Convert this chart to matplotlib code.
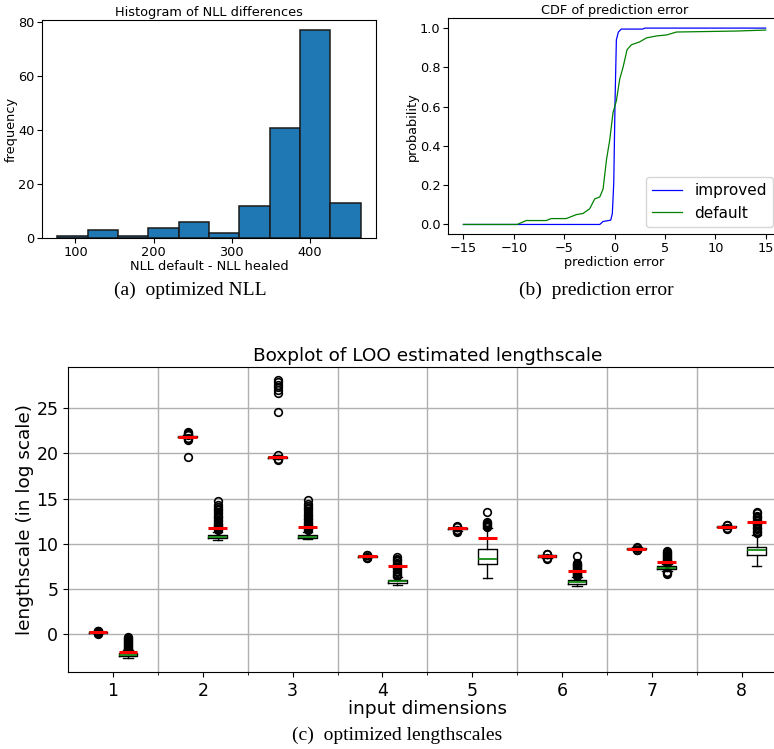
import matplotlib.pyplot as plt
import numpy as np

# (a) histogram of NLL differences
nll_edges = [77.0, 115.8, 154.6, 193.4, 232.2, 271.0, 309.8, 348.6, 387.4, 426.2, 465.0]
nll_counts = [1, 3, 1, 4, 6, 2, 12, 41, 77, 13]

# (b) CDF of prediction error
improved_x = [-15, -1.47, -1.14, -0.38, -0.22, -0.08, 0.05, 0.18, 0.38, 0.67, 2.8, 3.0, 15]
improved_p = [0, 0, 0.015, 0.022, 0.056, 0.21, 0.63, 0.94, 0.98, 0.995, 0.995, 1.0, 1.0]
default_x = [-15, -9.66, -8.77, -6.78, -6.29, -4.8, -3.8, -3.13, -2.47, -1.97, -1.47, -1.14,
             -0.8, -0.48, -0.15, 0.18, 0.51, 0.84, 1.24, 1.67, 2.5, 3.16, 4.16, 5.16, 6.15,
             12.1, 15]
default_p = [0, 0, 0.02, 0.02, 0.03, 0.03, 0.05, 0.056, 0.08, 0.13, 0.14, 0.18,
             0.33, 0.43, 0.57, 0.63, 0.74, 0.80, 0.89, 0.915, 0.93, 0.95, 0.96, 0.965, 0.98,
             0.985, 0.99]

# (c) boxplot stats per input dimension, two boxes each
dims = [1, 2, 3, 4, 5, 6, 7, 8]
a_med = [0.2, 21.85, 19.55, 8.62, 11.7, 8.62, 9.45, 11.88]
a_q1 = [0.15, 21.8, 19.5, 8.58, 11.62, 8.55, 9.4, 11.82]
a_q3 = [0.25, 21.9, 19.65, 8.68, 11.78, 8.7, 9.5, 11.95]
a_lo = [0.1, 21.7, 19.4, 8.5, 11.45, 8.45, 9.3, 11.7]
a_hi = [0.3, 22.0, 19.8, 8.75, 11.9, 8.8, 9.6, 12.05]
a_mean = [0.22, 21.82, 19.6, 8.64, 11.7, 8.64, 9.45, 11.89]
a_fliers = [
    [0.05, 0.1, 0.12, 0.15, 0.28, 0.3, 0.33, 0.38],
    [19.6, 21.5, 21.6, 21.7, 22.0, 22.1, 22.2, 22.3, 22.4],
    [19.3, 19.35, 19.8, 24.6, 26.65, 27.0, 27.35, 27.6, 27.9, 28.15],
    [8.4, 8.45, 8.5, 8.75, 8.8],
    [11.35, 11.4, 11.5, 11.9, 12.0],
    [8.3, 8.4, 8.85, 8.9],
    [9.3, 9.35, 9.55, 9.6],
    [11.6, 11.7, 12.05, 12.1],
]
b_med = [-2.29, 10.72, 10.8, 5.83, 8.27, 5.72, 7.35, 9.27]
b_q1 = [-2.44, 10.6, 10.67, 5.65, 7.72, 5.58, 7.16, 8.79]
b_q3 = [-2.07, 10.97, 10.97, 6.02, 9.38, 5.98, 7.53, 9.67]
b_lo = [-2.7, 10.45, 10.55, 5.39, 6.2, 5.28, 6.95, 7.53]
b_hi = [-1.8, 11.35, 11.35, 6.3, 11.78, 6.3, 7.75, 10.97]
b_mean = [-2.03, 11.74, 11.85, 7.5, 10.63, 6.98, 7.94, 12.37]
b_fliers = [
    [-1.7, -1.6, -1.5, -1.4, -1.3, -1.2, -1.1, -1.0, -0.9, -0.8, -0.7, -0.6, -0.45, -0.3],
    [11.5, 11.6, 11.7, 11.8, 11.9, 12.0, 12.1, 12.2, 12.35, 12.5, 12.65, 12.8, 12.95,
     13.1, 13.3, 13.5, 13.7, 13.9, 14.1, 14.3, 14.75],
    [11.55, 11.65, 11.75, 11.85, 11.95, 12.05, 12.15, 12.3, 12.45, 12.6, 12.75, 12.9,
     13.05, 13.2, 13.4, 13.6, 13.8, 14.0, 14.2, 14.4, 14.85],
    [6.4, 6.55, 6.7, 6.85, 7.0, 7.15, 7.3, 7.45, 7.6, 7.75, 7.9, 8.05, 8.2, 8.35, 8.5],
    [11.9, 12.0, 12.1, 12.2, 12.3, 12.4, 13.5],
    [6.4, 6.5, 6.6, 6.7, 6.8, 6.9, 7.0, 7.1, 7.2, 7.3, 7.4, 7.5, 7.6, 7.7, 7.8, 7.9, 8.68],
    [6.6, 6.75, 6.85, 7.85, 7.95, 8.05, 8.15, 8.25, 8.35, 8.45, 8.55, 8.65, 8.75, 8.85,
     8.95, 9.05, 9.15],
    [11.15, 11.3, 11.45, 11.6, 11.75, 11.9, 12.05, 12.2, 12.35, 12.5, 12.65, 12.8, 12.95,
     13.1, 13.35, 13.5],
]

fig = plt.figure(figsize=(7.74, 7.49), dpi=100)
small = 9.3

# ---- (a) histogram
ax1 = fig.add_axes([0.0547, 0.6818, 0.4307, 0.2915])
ax1.bar(nll_edges[:-1], nll_counts, width=np.diff(nll_edges), align='edge',
        color='#1f77b4', edgecolor='#1a1a1a', linewidth=1.1)
ax1.set_title('Histogram of NLL differences', fontsize=small, pad=3)
ax1.set_xlabel('NLL default - NLL healed', fontsize=small, labelpad=1)
ax1.set_ylabel('frequency', fontsize=small, labelpad=0)
ax1.tick_params(labelsize=small, pad=2)

# ---- (b) CDF
ax2 = fig.add_axes([0.5792, 0.6872, 0.4296, 0.2884])
ax2.plot(improved_x, improved_p, color='blue', linewidth=0.9, label='improved')
ax2.plot(default_x, default_p, color='green', linewidth=0.9, label='default')
ax2.set_xlim(-16.5, 16.5)
ax2.set_ylim(-0.05, 1.05)
ax2.set_title('CDF of prediction error', fontsize=small, pad=3)
ax2.set_xlabel('prediction error', fontsize=small, labelpad=1)
ax2.set_ylabel('probability', fontsize=small, labelpad=1)
ax2.tick_params(labelsize=small, pad=2)
ax2.legend(loc='lower right', fontsize=11)

# ---- (c) boxplots
ax3 = fig.add_axes([0.0879, 0.1028, 0.9284, 0.4076])
stats = []
positions = []
for i, d in enumerate(dims):
    stats.append(dict(med=a_med[i], q1=a_q1[i], q3=a_q3[i], whislo=a_lo[i],
                      whishi=a_hi[i], mean=a_mean[i], fliers=a_fliers[i]))
    positions.append(d - 0.167)
    stats.append(dict(med=b_med[i], q1=b_q1[i], q3=b_q3[i], whislo=b_lo[i],
                      whishi=b_hi[i], mean=b_mean[i], fliers=b_fliers[i]))
    positions.append(d + 0.167)

ax3.bxp(stats, positions=positions, widths=0.21, showmeans=True, meanline=True,
        medianprops=dict(color='green', linewidth=1.2),
        meanprops=dict(color='red', linestyle='-', linewidth=2.2),
        flierprops=dict(marker='o', markerfacecolor='none', markeredgecolor='black',
                        markersize=5.5, markeredgewidth=1.2))
ax3.set_xlim(0.5, 8.5)
ax3.set_ylim(-4.2, 29.6)
ax3.set_xticks(dims)
ax3.set_xticklabels([str(d) for d in dims])
ax3.set_xticks([d + 0.5 for d in dims[:-1]], minor=True)
ax3.set_yticks([0, 5, 10, 15, 20, 25])
ax3.grid(True, axis='y', which='major', color='#b0b0b0', linewidth=1)
ax3.grid(True, axis='x', which='minor', color='#b0b0b0', linewidth=1)
ax3.set_axisbelow(True)
ax3.tick_params(labelsize=12.5)
ax3.set_title('Boxplot of LOO estimated lengthscale', fontsize=13.3, pad=4)
ax3.set_xlabel('input dimensions', fontsize=13.3, labelpad=0)
ax3.set_ylabel('lengthscale (in log scale)', fontsize=13.3, labelpad=2)

# captions
cap = dict(family='Liberation Serif', fontsize=14, ha='center', va='center')
fig.text(190 / 774, 1 - 290 / 749, '(a)  optimized NLL', **cap)
fig.text(596 / 774, 1 - 290 / 749, '(b)  prediction error', **cap)
fig.text(397 / 774, 1 - 735 / 749, '(c)  optimized lengthscales', **cap)

fig.savefig('out.png', dpi=100)
